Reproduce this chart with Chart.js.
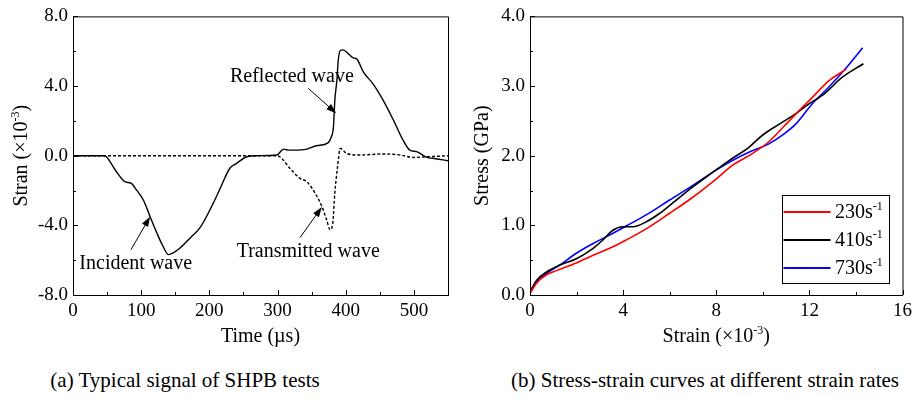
<!DOCTYPE html>
<html>
<head>
<meta charset="utf-8">
<script src="https://cdn.jsdelivr.net/npm/chart.js@4.4.1/dist/chart.umd.min.js"></script>
<style>
  body { margin: 0; background: #fff; width: 917px; height: 411px; overflow: hidden; position: relative; }
  .box { position: absolute; top: 0; height: 360px; }
  .cap { position: absolute; top: 368px; font: 21px "Liberation Serif", "Times New Roman", serif; color: #000; white-space: nowrap; transform: translateX(-50%); }
</style>
</head>
<body>
<div class="box" style="left:0;width:458px"><canvas id="signalChart"></canvas></div>
<div class="box" style="left:458px;width:459px"><canvas id="stressChart"></canvas></div>
<div class="cap" style="left:185px">(a) Typical signal of SHPB tests</div>
<div class="cap" style="left:705px">(b) Stress-strain curves at different strain rates</div>
<script>
// (a) incident + reflected wave (solid)
const timeIR = [0, 44.5, 49, 62, 76, 85, 93, 103, 113, 123, 132, 140, 147, 157, 172, 186, 201, 216, 230, 240,
  255, 269, 299, 309, 316, 323, 343, 357, 374, 379, 382, 384, 387, 389, 392, 396, 404, 411, 416, 426,
  440, 455, 470, 484, 494, 504, 519, 528, 550];
const strainIR = [0, 0, -0.06, -0.82, -1.49, -1.58, -1.96, -2.53, -3.49, -4.44, -5.2, -5.68, -5.58, -5.3, -4.72, -4.15, -3.1, -1.87, -0.72, -0.44,
  -0.06, 0, 0.04, 0.38, 0.32, 0.32, 0.38, 0.57, 0.74, 1.09, 1.66, 3.18, 4.32, 5.47, 6.04, 6.08, 5.85, 5.62, 5.56, 4.8,
  4.13, 3.18, 2.04, 0.9, 0.32, 0.23, -0.1, -0.15, -0.29];
// (a) transmitted wave (dashed)
const timeT = [0, 299, 306, 318, 333, 343, 355, 365, 372, 377, 381, 384, 388, 392, 396, 401, 421, 455, 480, 499, 519, 550];
const strainT = [0, 0, -0.15, -0.72, -1.3, -1.49, -2.15, -2.91, -3.68, -4.25, -3.87, -2.15, -0.63, 0.42, 0.32, 0.13, 0.04, 0.1, 0.04, -0.1, -0.06, 0];

// (b) stress-strain curves
const rateLabels = ['230', '410', '730'];
const strain230 = [0, 0.28, 0.71, 1.14, 1.99, 2.71, 3.42, 4.13, 4.99, 5.98, 6.98, 7.98, 8.69, 9.55, 10.26, 10.9, 11.54, 12.11, 12.82, 13.58];
const stress230 = [0.02, 0.17, 0.29, 0.35, 0.46, 0.57, 0.67, 0.79, 0.95, 1.17, 1.4, 1.66, 1.86, 2.03, 2.2, 2.42, 2.64, 2.83, 3.07, 3.24];
const strain410 = [0, 0.28, 0.71, 1.28, 1.99, 2.71, 3.13, 3.56, 3.99, 4.42, 4.99, 5.56, 6.27, 6.98, 7.84, 8.55, 9.4, 9.97, 10.69, 11.4, 11.97, 12.68, 13.39, 14.32];
const stress410 = [0.05, 0.21, 0.33, 0.43, 0.52, 0.67, 0.79, 0.93, 0.98, 0.98, 1.05, 1.17, 1.36, 1.55, 1.76, 1.93, 2.12, 2.29, 2.45, 2.6, 2.74, 2.9, 3.12, 3.32];
const strain730 = [0, 0.28, 0.71, 1.28, 1.99, 2.71, 3.42, 4.13, 4.99, 5.98, 6.98, 7.98, 8.69, 9.4, 10.26, 10.9, 11.4, 12.11, 12.82, 13.53, 14.29];
const stress730 = [0.03, 0.19, 0.31, 0.43, 0.6, 0.74, 0.86, 0.99, 1.15, 1.36, 1.57, 1.79, 1.93, 2.05, 2.17, 2.31, 2.45, 2.74, 2.98, 3.24, 3.55];

const SERIF = '"Liberation Serif", "Times New Roman", serif';
const pts = (xs, ys) => xs.map((x, i) => ({ x: x, y: ys[i] }));

// text with a superscript piece: parts = [[text, isSup], ...], centred at (x, y)
function richText(ctx, parts, x, y, size, angle) {
    const big = size + 'px ' + SERIF;
    const small = Math.round(size * 0.62) + 'px ' + SERIF;
    let total = 0;
    parts.forEach(p => { ctx.font = p[1] ? small : big; total += ctx.measureText(p[0]).width; });
    ctx.save();
    ctx.translate(x, y);
    ctx.rotate(angle || 0);
    ctx.fillStyle = '#000';
    ctx.textBaseline = 'middle';
    ctx.textAlign = 'left';
    let cx = -total / 2;
    parts.forEach(p => {
        ctx.font = p[1] ? small : big;
        ctx.fillText(p[0], cx, p[1] ? -size * 0.32 : 0);
        cx += ctx.measureText(p[0]).width;
    });
    ctx.restore();
}

function arrow(ctx, x1, y1, x2, y2) {
    const a = Math.atan2(y2 - y1, x2 - x1);
    ctx.save();
    ctx.strokeStyle = '#000';
    ctx.fillStyle = '#000';
    ctx.lineWidth = 1;
    ctx.beginPath();
    ctx.moveTo(x1, y1);
    ctx.lineTo(x2 - 8 * Math.cos(a), y2 - 8 * Math.sin(a));
    ctx.stroke();
    ctx.beginPath();
    ctx.moveTo(x2, y2);
    ctx.lineTo(x2 - 10 * Math.cos(a) + 3.5 * Math.sin(a), y2 - 10 * Math.sin(a) - 3.5 * Math.cos(a));
    ctx.lineTo(x2 - 10 * Math.cos(a) - 3.5 * Math.sin(a), y2 - 10 * Math.sin(a) + 3.5 * Math.cos(a));
    ctx.closePath();
    ctx.fill();
    ctx.restore();
}

// frame + inward ticks (major and minor)
const framePlugin = {
    id: 'frame',
    afterDraw(chart, args, opts) {
        const ctx = chart.ctx;
        const a = chart.chartArea;
        const xs = chart.scales.x, ys = chart.scales.y;
        ctx.save();
        ctx.strokeStyle = '#000';
        ctx.lineWidth = 1;
        ctx.beginPath();
        ctx.moveTo(a.left, a.top + 0.5); ctx.lineTo(a.right + 0.5, a.top + 0.5); ctx.lineTo(a.right + 0.5, a.bottom);
        ctx.stroke();
        ctx.beginPath();
        for (let v = xs.min; v <= xs.max + 1e-9; v += opts.xStep / 2) {
            const px = Math.round(xs.getPixelForValue(v)) + 0.5;
            const major = Math.abs((v - xs.min) / opts.xStep - Math.round((v - xs.min) / opts.xStep)) < 1e-6;
            ctx.moveTo(px, a.bottom); ctx.lineTo(px, a.bottom - (major ? 5 : 3));
        }
        for (let v = ys.min; v <= ys.max + 1e-9; v += opts.yStep / 2) {
            const py = Math.round(ys.getPixelForValue(v)) + 0.5;
            const major = Math.abs((v - ys.min) / opts.yStep - Math.round((v - ys.min) / opts.yStep)) < 1e-6;
            ctx.moveTo(a.left, py); ctx.lineTo(a.left + (major ? 5 : 3), py);
        }
        ctx.stroke();
        ctx.restore();
        opts.titles.forEach(t => richText(ctx, t.parts, t.x(a), t.y(a), 20, t.angle));
    }
};

const signalNotes = [
    { text: 'Incident wave', tx: 92, ty: -6.2, from: [85, -5.4], to: [113, -3.5] },
    { text: 'Transmitted wave', tx: 345, ty: -5.5, from: [333, -4.7], to: [365, -2.95] },
    { text: 'Reflected wave', tx: 321, ty: 4.56, from: [345, 3.87], to: [386, 2.44] }
];

const notePlugin = {
    id: 'notes',
    afterDraw(chart) {
        const ctx = chart.ctx;
        const xs = chart.scales.x, ys = chart.scales.y;
        signalNotes.forEach(n => {
            ctx.save();
            ctx.font = '20px ' + SERIF;
            ctx.fillStyle = '#000';
            ctx.textAlign = 'center';
            ctx.textBaseline = 'middle';
            ctx.fillText(n.text, xs.getPixelForValue(n.tx), ys.getPixelForValue(n.ty));
            ctx.restore();
            arrow(ctx, xs.getPixelForValue(n.from[0]), ys.getPixelForValue(n.from[1]),
                xs.getPixelForValue(n.to[0]), ys.getPixelForValue(n.to[1]));
        });
    }
};

const legendPlugin = {
    id: 'boxLegend',
    afterDraw(chart) {
        const ctx = chart.ctx;
        const a = chart.chartArea;
        const w = 107, h = 88;
        const x0 = a.right - 14 - w, y0 = a.bottom - 12 - h;
        ctx.save();
        ctx.fillStyle = '#fff';
        ctx.fillRect(x0, y0, w, h);
        ctx.strokeStyle = '#000';
        ctx.lineWidth = 1;
        ctx.strokeRect(Math.round(x0) + 0.5, Math.round(y0) + 0.5, w, h);
        chart.data.datasets.forEach((ds, i) => {
            const y = y0 + 17 + i * 28;
            ctx.strokeStyle = ds.borderColor;
            ctx.lineWidth = 2;
            ctx.beginPath();
            ctx.moveTo(x0 + 2, y); ctx.lineTo(x0 + 49, y);
            ctx.stroke();
            ctx.save();
            ctx.font = '20px ' + SERIF;
            const wMain = ctx.measureText(ds.label + 's').width;
            ctx.font = '13px ' + SERIF;
            const wSup = ctx.measureText('-1').width;
            ctx.restore();
            richText(ctx, [[ds.label + 's', false], ['-1', true]], x0 + 53 + (wMain + wSup) / 2, y + 1, 20, 0);
        });
        ctx.restore();
    }
};

function axes(xMin, xMax, xStep, yMin, yMax, yStep, yWidth) {
    const tickFont = { family: SERIF, size: 19 };
    return {
        x: {
            type: 'linear', min: xMin, max: xMax,
            grid: { display: false, drawTicks: false },
            border: { display: true, color: '#000', width: 1 },
            ticks: { stepSize: xStep, includeBounds: false, color: '#000', font: tickFont, padding: 5, maxRotation: 0 },
            afterFit: s => { s.height = 45; }
        },
        y: {
            type: 'linear', min: yMin, max: yMax,
            grid: { display: false, drawTicks: false },
            border: { display: true, color: '#000', width: 1 },
            ticks: { stepSize: yStep, color: '#000', font: tickFont, padding: 5, callback: v => v.toFixed(1) },
            afterFit: s => { s.width = yWidth; }
        }
    };
}

new Chart(document.getElementById('signalChart'), {
    type: 'line',
    data: {
        datasets: [
            { label: 'Incident / reflected', data: pts(timeIR, strainIR), borderColor: '#000', borderWidth: 1.4, pointRadius: 0, cubicInterpolationMode: 'monotone' },
            { label: 'Transmitted', data: pts(timeT, strainT), borderColor: '#000', borderWidth: 1.4, borderDash: [3, 2], pointRadius: 0, cubicInterpolationMode: 'monotone' }
        ]
    },
    options: {
        responsive: true, maintainAspectRatio: false, animation: false,
        layout: { padding: { left: 0, right: 10, top: 16, bottom: 20 } },
        plugins: {
            legend: { display: false }, tooltip: { enabled: false },
            frame: {
                xStep: 100, yStep: 4,
                titles: [
                    { parts: [['Time (µs)', false]], x: a => (a.left + a.right) / 2, y: a => 337 },
                    { parts: [['Stran (×10', false], ['-3', true], [')', false]], x: a => 22, y: a => (a.top + a.bottom) / 2, angle: -Math.PI / 2 }
                ]
            }
        },
        scales: axes(0, 550, 100, -8, 8, 4, 73)
    },
    plugins: [framePlugin, notePlugin]
});

new Chart(document.getElementById('stressChart'), {
    type: 'line',
    data: {
        datasets: [
            { label: rateLabels[0], data: pts(strain230, stress230), borderColor: '#ff0000', borderWidth: 1.6, pointRadius: 0, cubicInterpolationMode: 'monotone' },
            { label: rateLabels[1], data: pts(strain410, stress410), borderColor: '#000000', borderWidth: 1.6, pointRadius: 0, cubicInterpolationMode: 'monotone' },
            { label: rateLabels[2], data: pts(strain730, stress730), borderColor: '#0000ff', borderWidth: 1.6, pointRadius: 0, cubicInterpolationMode: 'monotone' }
        ]
    },
    options: {
        responsive: true, maintainAspectRatio: false, animation: false,
        layout: { padding: { left: 0, right: 13, top: 15, bottom: 20 } },
        plugins: {
            legend: { display: false }, tooltip: { enabled: false },
            frame: {
                xStep: 4, yStep: 1,
                titles: [
                    { parts: [['Strain (×10', false], ['-3', true], [')', false]], x: a => (a.left + a.right) / 2, y: a => 337 },
                    { parts: [['Stress (GPa)', false]], x: a => 25, y: a => (a.top + a.bottom) / 2, angle: -Math.PI / 2 }
                ]
            }
        },
        scales: axes(0, 16, 4, 0, 4, 1, 72)
    },
    plugins: [framePlugin, legendPlugin]
});
</script>
</body>
</html>
